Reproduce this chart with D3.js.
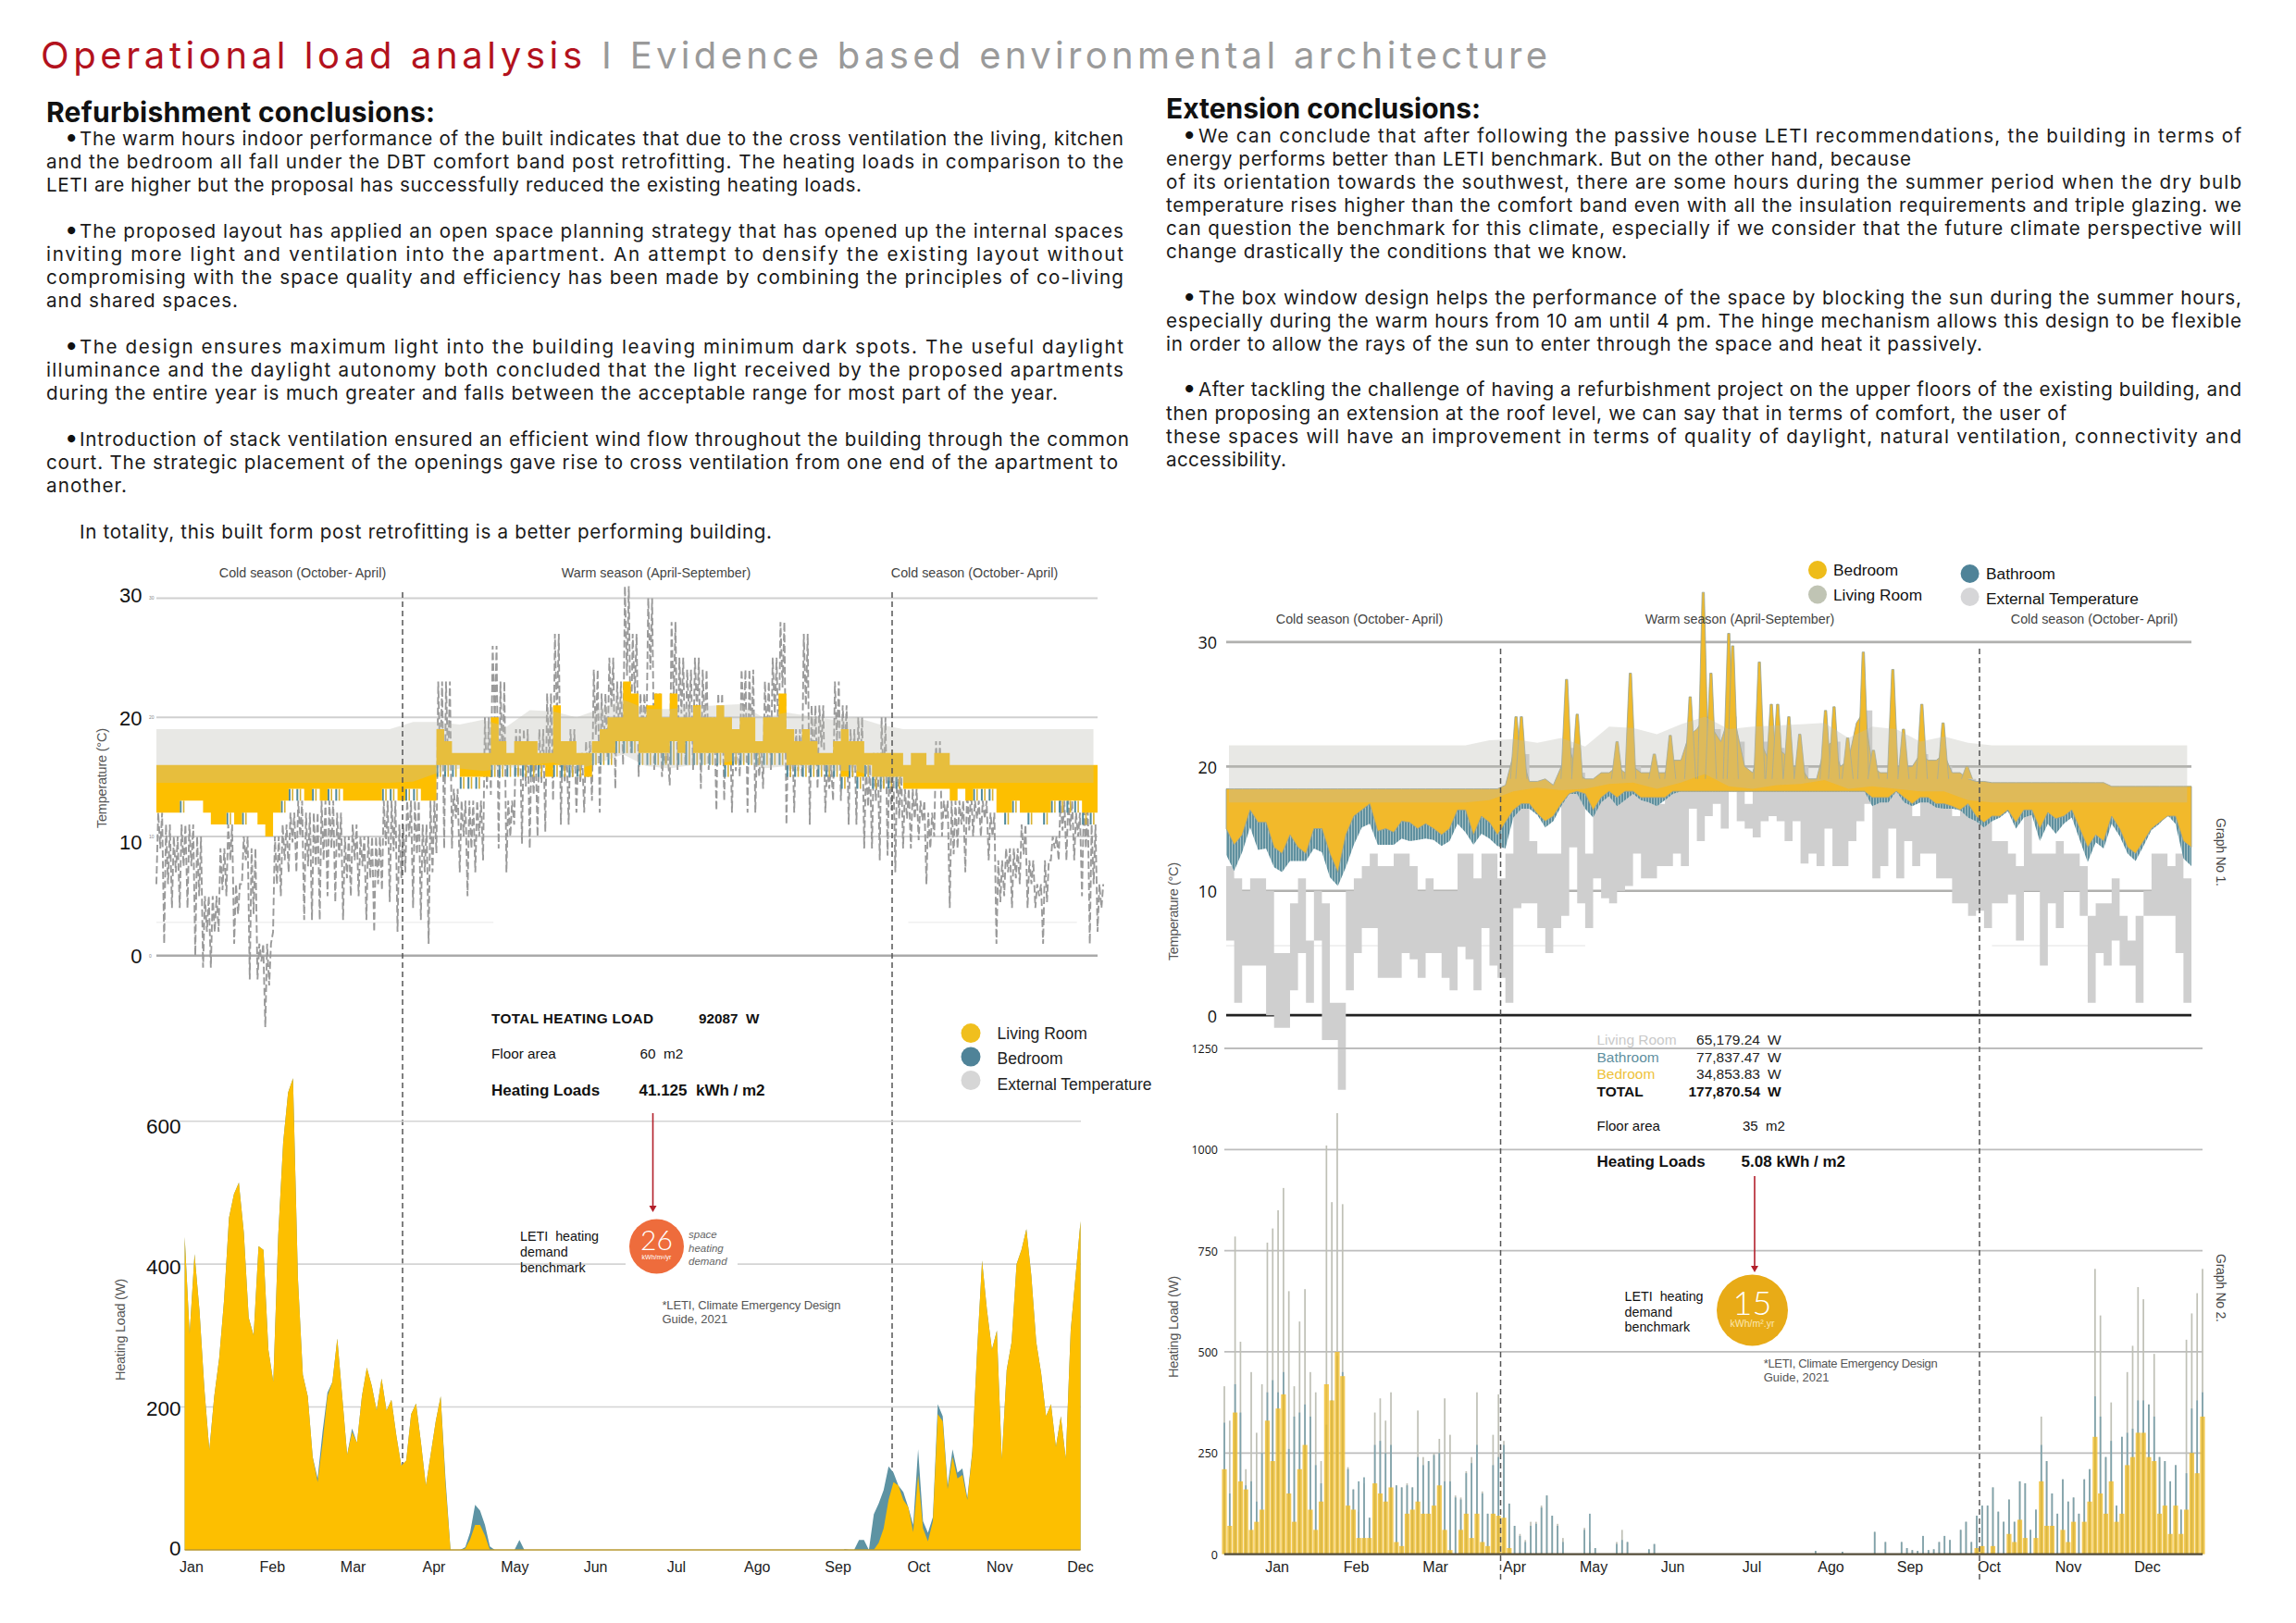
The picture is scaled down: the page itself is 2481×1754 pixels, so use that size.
<!DOCTYPE html>
<html><head><meta charset="utf-8">
<script src="https://cdn.jsdelivr.net/npm/d3@7/dist/d3.min.js"></script>
<style>html,body{margin:0;padding:0;background:#fff}svg{display:block}</style>
</head><body><svg id="c" width="2481" height="1754"></svg>
<script>
// ---------- shared categories & ticks ----------
const months = ["Jan","Feb","Mar","Apr","May","Jun","Jul","Ago","Sep","Oct","Nov","Dec"];
const tempTicks = [0,10,20,30];
const leftLoadTicks = [0,200,400,600];
const rightLoadTicks = [0,250,500,750,1000,1250];

// ---------- external temperature, one low/high pair every 3 days (degC) ----------
const extHigh = [12,11,10,11,11,10,5,5,9,11,6,10,9,1,1,10,11,12,13,12,
12,13,13,12,10,11,10,10,10,13,13,11,13,13,11,13,23,23,14,13,
13,13,20,26,23,13,19,19,18,19,22,27,18,19,17,18,24,22,25,23,
31,27,22,30,22,17,28,25,24,25,24,20,22,20,19,24,24,18,23,25,
28,19,19,27,21,21,16,23,21,19,20,16,17,20,16,16,14,14,13,12,
18,13,13,13,14,13,13,12,8,9,9,11,8,6,8,10,13,13,12,13,11,6];
const extLow = [6,1,4,4,4,0,-1,-1,2,5,1,6,-2,-2,-6,2,5,7,7,3,
3,3,5,4.5,3,5,5,3,2,5.5,4.5,2,7,4,3,1,8.6,9,9,7,
5,7,8,13.5,9,7,11,9.4,9,10,10.4,13,11,11,12,12,13,12,16.6,14,
16,17,15,18,15.6,15,14.3,15.6,16,15.6,14,15.6,12.2,13,12,15,12,12,14,15.6,
17,11,12,15,11,14,12,13,13,11,11,9,9,8,8.4,7,9,9,9.7,6,
10,10,4,9,7,10,10,8,1,5,4,6,4,4,1,8,8,8,8,5,1,2];

// ---------- refurbishment: indoor temperature, every 3 days ----------
const livingHighL = [16,16,16,16,16,16,16,16,16,16,16,16,16,16,16,16,16,16,16,16,
16,16,16,16,16,16,16,16,16,16,16,16,16,16,16,16,19,18,17,17,
17,17,17,20,18,17,18,18,18,17,17,21,18,18,17,17,18,19,20,20,
23,22,20,21,22,20,22,20,20,21,20,20,21,20,19,20,20,18,20,20,
22,19,18,19,18,17,17,18,19,18,18,17,17,17,17,17,16,17,17,16,
17,17,16,16,16,16,16,16,16,16,16,16,16,16,16,16,16,16,16,16,16,16];
const livingLowL = [12,12,12,13,13,13,12,11,11,12,11,12,12,11,10,12,13,14,14,13,
14,13,14,14,13,13,13,13,13,14,14,13,14,14,13,13,16,16,16,15,
15,15,15,16,16,16,16,16,16,16,15,16,16,16,16,15,17,17,17,18,
18,18,17,17,17,17,18,17,18,17,17,17,17,16,17,17,17,17,17,17,
17,16,16,16,16,16,16,16,15,16,15,16,15,15,15,15,14,14,14,14,
14,14,13,14,13,14,14,14,12,12,13,12,12,12,12,13,13,13,13,12,12,11];
const bedroomLowL = [12,12,12,12,13,13,12,11,11,11,11,11,12,11,10,12,12,13,13,13,
13,13,13,13,13,13,13,13,13,13,13,13,13,13,13,13,15,15,15,14,
14,14,15,15,15,15,15,15,15,15,15,15,15,15,15,15,16,16,16,17,
17,17,16,16,16,16,16,16,16,16,16,16,16,15,16,16,16,16,16,16,
16,15,15,15,15,15,15,15,14,15,14,15,14,14,14,14,14,14,14,14,
14,14,13,14,13,13,13,13,12,11,12,12,11,12,11,12,12,12,12,11,11,11];
// comfort band, every 9 days
const bandTopL = [19,19,19,19,19,19,19,19,19,19,19,19.6,19.6,19.4,19.8,19.2,20.6,20.5,20,20.7,21.5,
20.7,20.7,20.9,21,21.1,20,20.4,20.1,19.8,20,19.4,19,19,19,19,19,19,19,19,19];
const bandBottomL = [14.5,14.5,14.5,14.5,14.5,14.5,14.5,14.5,14.5,14.5,14.5,14.6,15.3,15.7,15.5,15.7,16,16.2,15.6,16.2,16.9,
15.9,15.7,16,16.1,16.4,15.7,15.9,15.7,15.5,15.5,14.8,14.5,14.5,14.5,14.5,14.5,14.5,14.5,14.5,14.5];

// ---------- refurbishment: heating load, every 2 days (W) ----------
const livingLoadWinter = [438,302,414,335,225,140,215,268,350,465,498,514,445,325,300,425,420,280,235,440,
570,640,660,380,245,215,130,95,150,215,235,296,215,133,165,150,215,255,230,195,
240,195,210,160,118,125,190,205,150,90,135,180,215,90,0,0,0,2,15,35,35,20,0];
const livingLoadAutumn = [0,10,30,70,95,90,70,60,25,105,30,12,40,190,180,85,130,100,105,70,135,280,405,335,280,307,127,252,291,400,420,449,384,291,247,187,204,144,187,128,307,384,460];
const bedroomLoadWinter = [438,302,414,335,225,140,215,268,350,465,498,514,445,325,300,425,420,280,235,440,
570,640,660,380,245,215,130,100,165,220,235,296,215,133,170,150,215,255,230,195,
240,195,210,160,118,125,190,205,150,90,135,180,215,98,0,0,0,4,25,63,55,35,5,0,0,0,0,0,14,0];
const bedroomLoadAutumn = [1,0,0,14,14,0,50,65,84,117,108,90,81,60,35,141,40,24,46,204,187,90,141,108,114,73,138,280,405,335,280,307,127,252,291,400,420,449,384,291,247,187,204,144,187,128,307,384,460];

// ---------- extension: indoor temperature, every 3 days ----------
const bedroomHighR = [18.2,18.2,18.2,18.2,18.2,18.2,18.2,18.2,18.2,18.2,18.2,18.2,18.2,18.2,18.2,18.2,18.2,18.2,18.2,18.2,
18.2,18.2,18.2,18.2,18.2,18.2,18.2,18.2,18.2,18.2,18.2,18.2,18.2,18.2,18.2,18.5,21,21,18.8,18.8,
19,18.5,20,21.5,19.5,19,19,19.5,19.5,20,19.5,20,19.5,19.5,19.5,19.5,20.5,20.5,22.5,23,
24,23,22,24,23,20,19.5,22,20.5,21.5,21,20,20,19,19,21.5,22,20,20.5,23.5,
24.5,20,19.5,19.5,20,20,20,21,20.5,20.5,21,19.5,19.5,19,18.8,18.8,18.7,18.7,18.7,18.7,
18.7,18.7,18.7,18.7,18.7,18.7,18.7,18.7,18.7,18.7,18.7,18.4,18.4,18.4,18.4,18.4,18.4,18.4,18.4,18.4,18.4,18.4];
const bedroomLowR = [15,13.7,14.5,16.5,15.5,15.5,13.5,13,14.5,13.5,13,15,15,13,11.5,14.5,16,16.5,17,14.8,
15,14.7,15.6,15.5,15,15.4,15,14.5,15,16.5,16.5,14.5,16,15.5,14.5,15.5,16.5,17,17,16.2,
15.6,16,17,17.8,18,17.8,16.5,17.5,18,17.5,18,18,17.5,17.5,17.5,17.5,18,18,18,18,
18,18,18,18,18,18,18,18,18,18,18,18,18,18,18,18,18,18,18,18,
18,17.5,17.5,17.5,18,17.5,17,17.5,17.5,17,17,16.8,16.5,17,16,15.5,16,16,16.5,15.5,
16.5,16.5,15,16.3,15.8,16,16.5,15,13.5,14.5,14,16,15,13.5,13,14,15,15.5,16,16,14,13.5];
const bathroomLowR = [12.9,11.6,13.1,15.1,13.3,13.4,11.9,11.5,12.4,12.4,12.4,13.4,13.1,11.1,10.4,11.9,13.7,15.1,15.4,13.7,
13.7,13.7,14.2,14,14.1,14.2,14.1,13.6,14,15.4,14.7,13.7,14.6,14.2,13.6,13.4,15.9,16.6,16.6,16.1,
15.1,15.6,16.8,17.8,17.8,16.6,15.9,17.1,17.6,16.8,17.3,17.8,17.3,17.1,16.8,17.3,17.8,18,18,18,
18,18,18,18,18,18,18,18,18,18,18,18,18,18,18,18,18,18,18,18,
18,16.8,17.1,17.1,18,17.1,16.8,17.1,17.1,16.7,16.6,16.6,16.5,15.9,15.6,15.1,15.6,15.9,16.4,15,
15.9,16.1,14,15.4,14.6,15.4,15.9,14.1,12.3,13.9,13.4,15.4,14.4,13,12.4,13.6,14.9,15.4,16.1,15.4,12.6,12];
// narrow overheating spikes of the bedroom line (day of year, degC)
const spikeDaysR = [109,111,128,132,147,152,161,167,174.5,179.4,182.3,189,190.5,200.5,205,207.4,211.6,215.7,225.4,228.6,233.7,239.6,243.4,250.7,254.7,261.6,269.6,278.6];
const spikeTopsR = [24,24,27,24.2,22,27.5,21,22.5,25.6,34,27.5,30.7,29.7,28.4,25,25,24,22.6,24.5,24.8,22.3,29.2,21.3,27.8,23,25,23.5,20];
const bandTopR = [21.7,21.7,21.7,21.7,21.7,21.7,21.7,21.7,21.7,21.7,21.7,22.1,22.2,21.9,22.3,21.6,23.2,23.1,22.6,23.4,24,
23,23.2,23.3,23.4,23.5,22.3,23.2,23,22,22.4,21.9,21.7,21.7,21.7,21.7,21.7,21.7,21.7,21.7,21.7];
const bandBottomR = [17.1,17.1,17.1,17.1,17.1,17.1,17.1,17.1,17.1,17.1,17.1,17.3,18,18.3,18.1,18.2,18.6,18.7,18.2,18.7,19.4,
18.4,18.2,18.5,18.6,18.9,18.2,18.4,18.2,18,18,17.3,17.1,17.1,17.1,17.1,17.1,17.1,17.1,17.1,17.1];

// ---------- extension: heating load bars, every 2 days (W) ----------
const livingBarsWinter = [415,330,785,525,210,450,300,420,770,805,850,905,650,415,575,655,450,400,230,1010,870,1090,865,215,160,
105,175,90,350,385,330,400,170,165,175,165,355,240,230,250,285,385,295,145,140,205,240,400,155,100,295,395,280,125,70,50,35,80,80,120,145,95,75,40,
0,0,0,65,30,15,0,0,0,30,60,30,0,0,0,12,25];
const bathBarsWinter = [325,150,420,350,170,180,130,250,400,430,400,450,260,340,350,370,340,220,175,320,380,490,450,210,160,
180,190,90,270,280,250,270,170,165,170,165,240,220,230,245,250,180,180,140,135,200,225,270,150,100,220,240,270,125,70,45,30,70,75,115,145,95,70,30,
0,0,0,60,100,15,0,0,0,25,35,30,0,0,0,12,25];
const bedBarsWinter = [210,70,350,180,160,60,80,110,330,230,360,395,150,80,210,270,110,60,130,420,380,500,440,120,110,
40,40,40,175,150,130,165,30,20,100,110,130,100,100,120,170,60,10,0,60,100,40,100,30,20,100,95,90,15];
const livingBarsAutumn = [8,0,0,0,0,6,0,0,0,0,0,55,0,30,0,0,30,15,10,8,45,10,12,30,45,35,0,60,80,30,95,120,120,165,105,80,135,80,180,175,60,110,
340,230,150,100,185,130,140,100,185,210,705,590,240,375,120,290,450,515,660,630,370,495,240,230,180,220,110,530,595,645,705];
const bathBarsAutumn = [8,0,0,0,0,6,0,0,0,0,0,55,0,30,0,0,30,15,10,8,45,10,12,30,45,35,0,60,80,30,95,120,120,165,105,80,135,80,180,175,60,110,
270,230,150,100,185,130,140,100,185,210,390,340,240,280,120,290,300,310,380,380,370,340,240,230,180,220,110,200,360,380,400];
const bedBarsAutumn = [15,20,0,20,0,0,50,30,85,40,0,40,180,70,70,0,60,30,80,0,80,130,290,150,100,180,80,100,220,240,300,300,240,230,100,120,50,120,50,110,250,200,340];

// ---------- text ----------
const bodyLeft = [
 ["The warm hours indoor performance of the built indicates that due to the cross ventilation the living, kitchen",86,1214,157,1],
 ["and the bedroom all fall under the DBT comfort band post retrofitting. The heating loads in comparison to the",50,1214,182],
 ["LETI are higher but the proposal has successfully reduced the existing heating loads.",50,931,207],
 ["The proposed layout has applied an open space planning strategy that has opened up the internal spaces",86,1214,257,1],
 ["inviting more light and ventilation into the apartment. An attempt to densify the existing layout without",50,1214,282],
 ["compromising with the space quality and efficiency has been made by combining the principles of co-living",50,1214,307],
 ["and shared spaces.",50,257,332],
 ["The design ensures maximum light into the building leaving minimum dark spots. The useful daylight",86,1214,382,1],
 ["illuminance and the daylight autonomy both concluded that the light received by the proposed apartments",50,1214,407],
 ["during the entire year is much greater and falls between the acceptable range for most part of the year.",50,1143,432],
 ["Introduction of stack ventilation ensured an efficient wind flow throughout the building through the common",86,1220,482,1],
 ["court. The strategic placement of the openings gave rise to cross ventilation from one end of the apartment to",50,1208,507],
 ["another.",50,137,532],
 ["In totality, this built form post retrofitting is a better performing building.",86,834,582]
];
const bodyRight = [
 ["We can conclude that after following the passive house LETI recommendations, the building in terms of",1295,2422,153.5,1],
 ["energy performs better than LETI benchmark. But on the other hand, because",1260,2065,178.7],
 ["of its orientation towards the southwest, there are some hours during the summer period when the dry bulb",1260,2422,203.6],
 ["temperature rises higher than the comfort band even with all the insulation requirements and triple glazing. we",1260,2422,228.5],
 ["can question the benchmark for this climate, especially if we consider that the future climate perspective will",1260,2422,253.7],
 ["change drastically the conditions that we know.",1260,1758,278.6],
 ["The box window design helps the performance of the space by blocking the sun during the summer hours,",1295,2422,328.8,1],
 ["especially during the warm hours from 10 am until 4 pm. The hinge mechanism allows this design to be flexible",1260,2422,353.6],
 ["in order to allow the rays of the sun to enter through the space and heat it passively.",1260,2142,378.9],
 ["After tackling the challenge of having a refurbishment project on the upper floors of the existing building, and",1295,2422,428,1],
 ["then proposing an extension at the roof level, we can say that in terms of comfort, the user of",1260,2233,453.5],
 ["these spaces will have an improvement in terms of quality of daylight, natural ventilation, connectivity and",1260,2422,478.8],
 ["accessibility.",1260,1390,503.6]
];

// ---------- helpers ----------
const svg = d3.select("#c");
const SANS = "'Liberation Sans', Arial, sans-serif", BODY = "Inter, 'Open Sans', sans-serif";
function T(x,y,s,o={}){
  const t = svg.append("text").attr("x",x).attr("y",y).text(s)
    .attr("font-family",o.family||SANS).attr("font-size",o.size||14)
    .attr("fill",o.fill||"#111").attr("font-weight",o.weight||400)
    .attr("text-anchor",o.anchor||"start");
  if(o.style) t.attr("font-style",o.style);
  if(o.len) t.attr("textLength",o.len).attr("lengthAdjust","spacing");
  if(o.rot!==undefined) t.attr("transform",`rotate(${o.rot} ${x} ${y})`);
  return t;
}
function hline(sel, scale, ticks, x0, x1, col, w, zeroCol, zeroW){
  sel.selectAll(null).data(ticks).join("line")
    .attr("x1",x0).attr("x2",x1).attr("y1",d=>scale(d)).attr("y2",d=>scale(d))
    .attr("stroke",d=>d===0&&zeroCol?zeroCol:col).attr("stroke-width",d=>d===0&&zeroW?zeroW:w);
}
function yAxis(x, scale, ticks, size, family, pad, shift){
  const g = svg.append("g").attr("transform",`translate(${x},0)`)
    .call(d3.axisLeft(scale).tickValues(ticks).tickFormat(d3.format("d")).tickSize(0).tickPadding(pad));
  g.select(".domain").remove();
  g.selectAll("text").attr("font-size",size).attr("font-family",family).attr("fill","#111")
    .attr("dy",null).attr("y",(d,i)=>(shift?shift[i]:0)).attr("dominant-baseline","central");
  return g;
}
function monthAxis(x0,x1,y){
  const m = d3.scalePoint().domain(months).range([x0,x1]);
  const g = svg.append("g").attr("transform",`translate(0,${y})`)
    .call(d3.axisBottom(m).tickSize(0).tickPadding(0));
  g.select(".domain").remove();
  g.selectAll("text").attr("font-size",16).attr("font-family",SANS).attr("fill","#222").attr("dy",null).attr("y",0).attr("dominant-baseline","central");
}
function dashed(x,y0,y1){
  svg.append("line").attr("x1",x).attr("x2",x).attr("y1",y0).attr("y2",y1)
    .attr("stroke","#555").attr("stroke-width",1.5).attr("stroke-dasharray","6,4");
}
const defs = svg.append("defs");
const pat = defs.append("pattern").attr("id","stripe").attr("width",3).attr("height",4).attr("patternUnits","userSpaceOnUse");
pat.append("rect").attr("width",3).attr("height",4).attr("fill","#a5c0c4");
pat.append("rect").attr("width",2).attr("height",4).attr("fill","#5f909f");

svg.append("rect").attr("width",2481).attr("height",1754).attr("fill","#fff");

// ---------- title & paragraphs ----------
T(44,74,"Operational load analysis",{family:BODY,size:40,fill:"#b3121d",len:585});
T(650,74,"I Evidence based environmental architecture",{family:BODY,size:40,fill:"#9a9a9a",len:1022});
T(50,132,"Refurbishment conclusions:",{family:BODY,size:30,weight:700,len:420});
T(1260,128,"Extension conclusions:",{family:BODY,size:30,weight:700,len:340});
function para(lines,bx){
  lines.forEach(l=>{
    T(l[1],l[3],l[0],{family:BODY,size:20.6,fill:"#1a1a1a",len:l[2]-l[1]});
    if(l[4]) T(bx,l[3],"\u2022",{family:BODY,size:26,fill:"#111",weight:700});
  });
}
para(bodyLeft,71); para(bodyRight,1279);

// ---------- LEFT temperature ----------
(function(){
  const x = d3.scaleLinear().domain([0,363]).range([169,1186]);
  const y = d3.scaleLinear().domain([0,30]).range([1032.8,646.4]);
  const g = svg.append("g");
  hline(g,y,tempTicks,169,1186,"#d0d0d0",2,"#aaaaaa",2.5);
  g.append("line").attr("x1",x(0)).attr("x2",x(130)).attr("y1",y(2.8)).attr("y2",y(2.8)).attr("stroke","#f0f0f0").attr("stroke-width",1.5);
  g.append("line").attr("x1",x(290)).attr("x2",x(355)).attr("y1",y(2.8)).attr("y2",y(2.8)).attr("stroke","#f0f0f0").attr("stroke-width",1.5);
  // external dashed zig-zag
  const zig = extLow.flatMap((lo,i)=>[[x(i*3),y(lo)],[x(i*3+0.7),y(extHigh[i])],[x(i*3+1.5),y((lo+extHigh[i])/2)],[x(i*3+2.2),y(extHigh[i])]]);
  g.append("path").attr("d",d3.line()(zig)).attr("fill","none").attr("stroke","#9a9a9a").attr("stroke-width",1.9).attr("stroke-dasharray","8,3.5");
  // bedroom
  const gaps = bedroomLowL.map((d,i)=>({i,lo:d,hi:livingLowL[i]})).filter(d=>d.lo<d.hi);
  g.selectAll(null).data(gaps).join("rect")
    .attr("x",d=>x(d.i*3)).attr("width",2).attr("y",d=>y(d.hi)).attr("height",d=>y(d.lo)-y(d.hi)).attr("fill","#4f8a9c");
  g.selectAll(null).data(gaps).join("rect")
    .attr("x",d=>x(d.i*3)+3.5).attr("width",1.6).attr("y",d=>y(d.hi)).attr("height",d=>y(d.lo)-y(d.hi)).attr("fill","#d9b232");
  // living
  g.append("path").datum(livingHighL).attr("fill","#fdbf00")
    .attr("d",d3.area().x((d,i)=>x(i*3)).y0((d,i)=>y(livingLowL[i])).y1(d=>y(d)).curve(d3.curveStepAfter));
  // comfort band over everything
  g.append("path").datum(bandTopL).attr("fill","#bcbcb2").attr("opacity",.34)
    .attr("d",d3.area().x((d,i)=>x(i*9)+ (i===40?4:0)).y0((d,i)=>y(bandBottomL[i])).y1(d=>y(d)));
  yAxis(169,y,tempTicks,22,SANS,15.5,[0,6,1,-3]);
  tempTicks.forEach(t=>T(161,y(t)+2,String(t),{size:5,fill:"#888"}));
})();
dashed(435,640,1673); dashed(964,640,1673);

T(327,624,"Cold season (October- April)",{anchor:"middle",size:14.3,fill:"#444"});
T(709,624,"Warm season (April-September)",{anchor:"middle",size:14.3,fill:"#444"});
T(1053,624,"Cold season (October- April)",{anchor:"middle",size:14.3,fill:"#444"});
T(115,895,"Temperature (\u00B0C)",{size:14.5,fill:"#555",rot:-90,len:108});
T(135,1492,"Heating Load (W)",{size:14.5,fill:"#555",rot:-90,len:110});

// ---------- LEFT heating load ----------
(function(){
  const x = d3.scaleLinear().domain([0,364]).range([199.6,1167.6]);
  const y = d3.scaleLinear().domain([0,600]).range([1675,1211.7]);
  const g = svg.append("g");
  hline(g,y,leftLoadTicks.slice(1),194,1168,"#d4d4d4",1.6);
  g.append("rect").attr("x",676).attr("width",121).attr("y",y(400)-3).attr("height",6).attr("fill","#fff");
  const a = off=>d3.area().x((d,i)=>x((off+i)*2)).y0(y(0)).y1(d=>y(d));
  g.append("path").attr("d",a(0)(bedroomLoadWinter)).attr("fill","#5d93a3");
  g.append("path").attr("d",a(134)(bedroomLoadAutumn)).attr("fill","#5d93a3");
  g.append("path").attr("d",a(0)(livingLoadWinter)).attr("fill","#fdbf00");
  g.append("path").attr("d",a(140)(livingLoadAutumn)).attr("fill","#fdbf00");
  g.append("line").attr("x1",x(0)).attr("x2",x(364)).attr("y1",y(0)).attr("y2",y(0)).attr("stroke","#b9982f").attr("stroke-width",1.5);
  yAxis(195.5,y,leftLoadTicks,22.5,SANS,0,[-2,1,3,5]);
  monthAxis(206.5,1167,1693);
})();
T(531,1106,"TOTAL HEATING LOAD",{weight:700,size:15.3,len:175});
T(755,1106,"92087  W",{weight:700,size:15.3}).attr("xml:space","preserve");
T(531,1144,"Floor area",{size:15.3});
T(691.5,1144,"60  m2",{size:15.3}).attr("xml:space","preserve");
T(531,1184,"Heating Loads",{weight:700,size:17});
T(690.5,1184,"41.125  kWh / m2",{weight:700,size:17}).attr("xml:space","preserve");
svg.append("line").attr("x1",705.5).attr("x2",705.5).attr("y1",1203).attr("y2",1305).attr("stroke","#b3202b").attr("stroke-width",1.6);
svg.append("path").attr("d","M701.5,1303L709.5,1303L705.5,1310Z").attr("fill","#b3202b");
svg.append("ellipse").attr("cx",709.5).attr("cy",1347).attr("rx",29.5).attr("ry",29.5).attr("fill","#ee6c3c");
T(709.5,1351,"26",{anchor:"middle",size:30,fill:"#fff",family:"Lato, sans-serif",weight:300});
T(709.5,1361,"kWh/m\u00B2/yr",{anchor:"middle",size:7,fill:"#fff"});
["space","heating","demand"].forEach((s,i)=>T(744,[1338,1353,1366.5][i],s,{size:11.5,fill:"#666",style:"italic"}));
["LETI  heating","demand","benchmark"].forEach((s,i)=>T(562,[1341,1358,1375][i],s,{size:14.3,fill:"#111"}).attr("xml:space","preserve"));
T(715.4,1414.5,"*LETI, Climate Emergency Design",{size:13,fill:"#555",len:193});
T(715.4,1430,"Guide, 2021",{size:13,fill:"#555"});
[["Living Room","#f0bf1d",1116.6,1123],["Bedroom","#4f8398",1142,1150],["External Temperature","#d6d6d6",1167.5,1177.6]].forEach(d=>{
  svg.append("circle").attr("cx",1049).attr("cy",d[2]).attr("r",10.5).attr("fill",d[1]);
  T(1077.6,d[3],d[0],{size:17.5,fill:"#222"});
});

// ---------- RIGHT temperature ----------
(function(){
  const x = d3.scaleLinear().domain([0,363]).range([1325,2368]);
  const y = d3.scaleLinear().domain([0,30]).range([1097.2,693.9]);
  const g = svg.append("g");
  hline(g,y,tempTicks,1325,2368,"#b0b0ae",2.6,"#222",2.8);
  g.append("line").attr("x1",x(0)).attr("x2",x(135)).attr("y1",y(5.6)).attr("y2",y(5.6)).attr("stroke","#ececec").attr("stroke-width",1.5);
  g.append("line").attr("x1",x(288)).attr("x2",x(330)).attr("y1",y(5.6)).attr("y2",y(5.6)).attr("stroke","#ececec").attr("stroke-width",1.5);
  // external as a solid grey stepped band
  g.append("path").datum(extLow).attr("fill","#cfcfcf")
    .attr("d",d3.area().x((d,i)=>x(i*3)).y0(d=>y(d)).y1((d,i)=>y(Math.min(extHigh[i],bedroomHighR[i]))).curve(d3.curveStepAfter));
  // bathroom
  g.append("path").datum(bathroomLowR).attr("fill","url(#stripe)")
    .attr("d",d3.area().x((d,i)=>x(i*3)).y0(d=>y(d)).y1((d,i)=>y(bedroomLowR[i]+0.4)));
  // bedroom
  g.append("path").datum(bedroomHighR).attr("fill","#f2b92b").attr("stroke","#97a393").attr("stroke-width",.9)
    .attr("d",d3.area().x((d,i)=>x(i*3)).y0((d,i)=>y(bedroomLowR[i])).y1(d=>y(d)));
  // narrow spikes
  const spike = d3.line();
  g.selectAll(null).data(spikeDaysR).join("path")
    .attr("fill","#f0ba2c").attr("stroke","#97a393").attr("stroke-width",.8)
    .attr("d",(d,i)=>spike([[x(d)-6,y(19)],[x(d)-1.2,y(spikeTopsR[i])],[x(d)+1.2,y(spikeTopsR[i])],[x(d)+6,y(19)]]));
  // comfort band
  g.append("path").datum(bandTopR).attr("fill","#bcbcb2").attr("opacity",.34)
    .attr("d",d3.area().x((d,i)=>x(i*9)+(i===0?3:0)+(i===40?4:0)).y0((d,i)=>y(bandBottomR[i])).y1(d=>y(d)));
  yAxis(1325,y,tempTicks,18,"'Open Sans', sans-serif",10);
})();

// ---------- RIGHT heating load ----------
(function(){
  const x = d3.scaleLinear().domain([0,364]).range([1323,2380]);
  const y = d3.scaleLinear().domain([0,1250]).range([1679.6,1133]);
  const g = svg.append("g");
  hline(g,y,rightLoadTicks.slice(1),1323,2380,"#bdbdbd",1.8);
  const bars = (arr,off,col,w,op)=>g.selectAll(null).data(arr).join("rect")
    .attr("x",(d,i)=>x((off+i)*2)-w/2).attr("width",w).attr("y",d=>y(d)).attr("height",d=>y(0)-y(d))
    .attr("fill",col).attr("opacity",op);
  bars(livingBarsWinter,0,"#bfc0b6",1.7,1); bars(livingBarsAutumn,110,"#bfc0b6",1.7,1);
  bars(bathBarsWinter,0,"#7fa2ab",1.7,1); bars(bathBarsAutumn,110,"#7fa2ab",1.7,1);
  bars(bedBarsWinter,0,"#f0bd2a",5.2,.8); bars(bedBarsAutumn,140,"#f0bd2a",5.2,.8);
  g.append("line").attr("x1",x(0)).attr("x2",x(364)).attr("y1",y(0)).attr("y2",y(0)).attr("stroke","#544c38").attr("stroke-width",2.2);
  yAxis(1323,y,rightLoadTicks,12.5,"'Open Sans', sans-serif",7);
  monthAxis(1379.6,2320,1693.7);
})();
dashed(1621.5,701,1708); dashed(2139,701,1708);

T(1469,673.5,"Cold season (October- April)",{anchor:"middle",size:14.3,fill:"#444"});
T(1880,673.5,"Warm season (April-September)",{anchor:"middle",size:14.3,fill:"#444"});
T(2263,673.5,"Cold season (October- April)",{anchor:"middle",size:14.3,fill:"#444"});
T(1273,1038,"Temperature (\u00B0C)",{size:14.5,fill:"#555",rot:-90,len:106});
T(1273,1489,"Heating Load (W)",{size:14.5,fill:"#555",rot:-90,len:110});
T(2395,884,"Graph No 1.",{size:14,fill:"#444",rot:90,len:74});
T(2395,1355,"Graph No 2.",{size:14,fill:"#444",rot:90,len:74});
[["Bedroom","#eebc1a",1964,616,1981,622],["Living Room","#c0c4b4",1964,642.5,1981,649],["Bathroom","#4f8398",2128.6,620,2146,626],["External Temperature","#d6d6d8",2128.6,645,2146,653]].forEach(d=>{
  svg.append("circle").attr("cx",d[2]).attr("cy",d[3]).attr("r",10).attr("fill",d[1]);
  T(d[4],d[5],d[0],{size:17.3,fill:"#111"});
});
[["Living Room","#c9c9c9",1129,"65,179.24  W",400],["Bathroom","#5f8f9f",1147.7,"77,837.47  W",400],["Bedroom","#eec23a",1166,"34,853.83  W",400]].forEach(d=>{
  T(1725.5,d[2],d[0],{size:15.5,fill:d[1]});
  T(1902,d[2],d[3].split("  ")[0],{size:15.5,anchor:"end",fill:"#222"});
  T(1910,d[2],"W",{size:15.5,fill:"#222"});
});
T(1725.5,1185,"TOTAL",{weight:700,size:15.5});
T(1902,1185,"177,870.54",{weight:700,size:15.5,anchor:"end"});
T(1910,1185,"W",{weight:700,size:15.5});
T(1725.5,1222,"Floor area",{size:15});
T(1883,1222,"35  m2",{size:15}).attr("xml:space","preserve");
T(1725.5,1261,"Heating Loads",{weight:700,size:17});
T(1881.6,1261,"5.08 kWh / m2",{weight:700,size:17});
svg.append("line").attr("x1",1896).attr("x2",1896).attr("y1",1271).attr("y2",1370).attr("stroke","#b3202b").attr("stroke-width",1.6);
svg.append("path").attr("d","M1892,1368L1900,1368L1896,1375Z").attr("fill","#b3202b");
svg.append("circle").attr("cx",1893.5).attr("cy",1416).attr("r",38.5).attr("fill","#e8ab17");
T(1893.5,1421,"15",{anchor:"middle",size:36,fill:"#fff",family:"Lato, sans-serif",weight:300});
T(1893.5,1434,"kWh/m\u00B2.yr",{anchor:"middle",size:10.5,fill:"#fbe7b0"});
["LETI  heating","demand","benchmark"].forEach((s,i)=>T(1755.5,[1406,1422.6,1439][i],s,{size:14.3,fill:"#111"}).attr("xml:space","preserve"));
T(1905.7,1478,"*LETI, Climate Emergency Design",{size:13,fill:"#555",len:188});
T(1905.7,1493,"Guide, 2021",{size:13,fill:"#555"});
</script></body></html>
